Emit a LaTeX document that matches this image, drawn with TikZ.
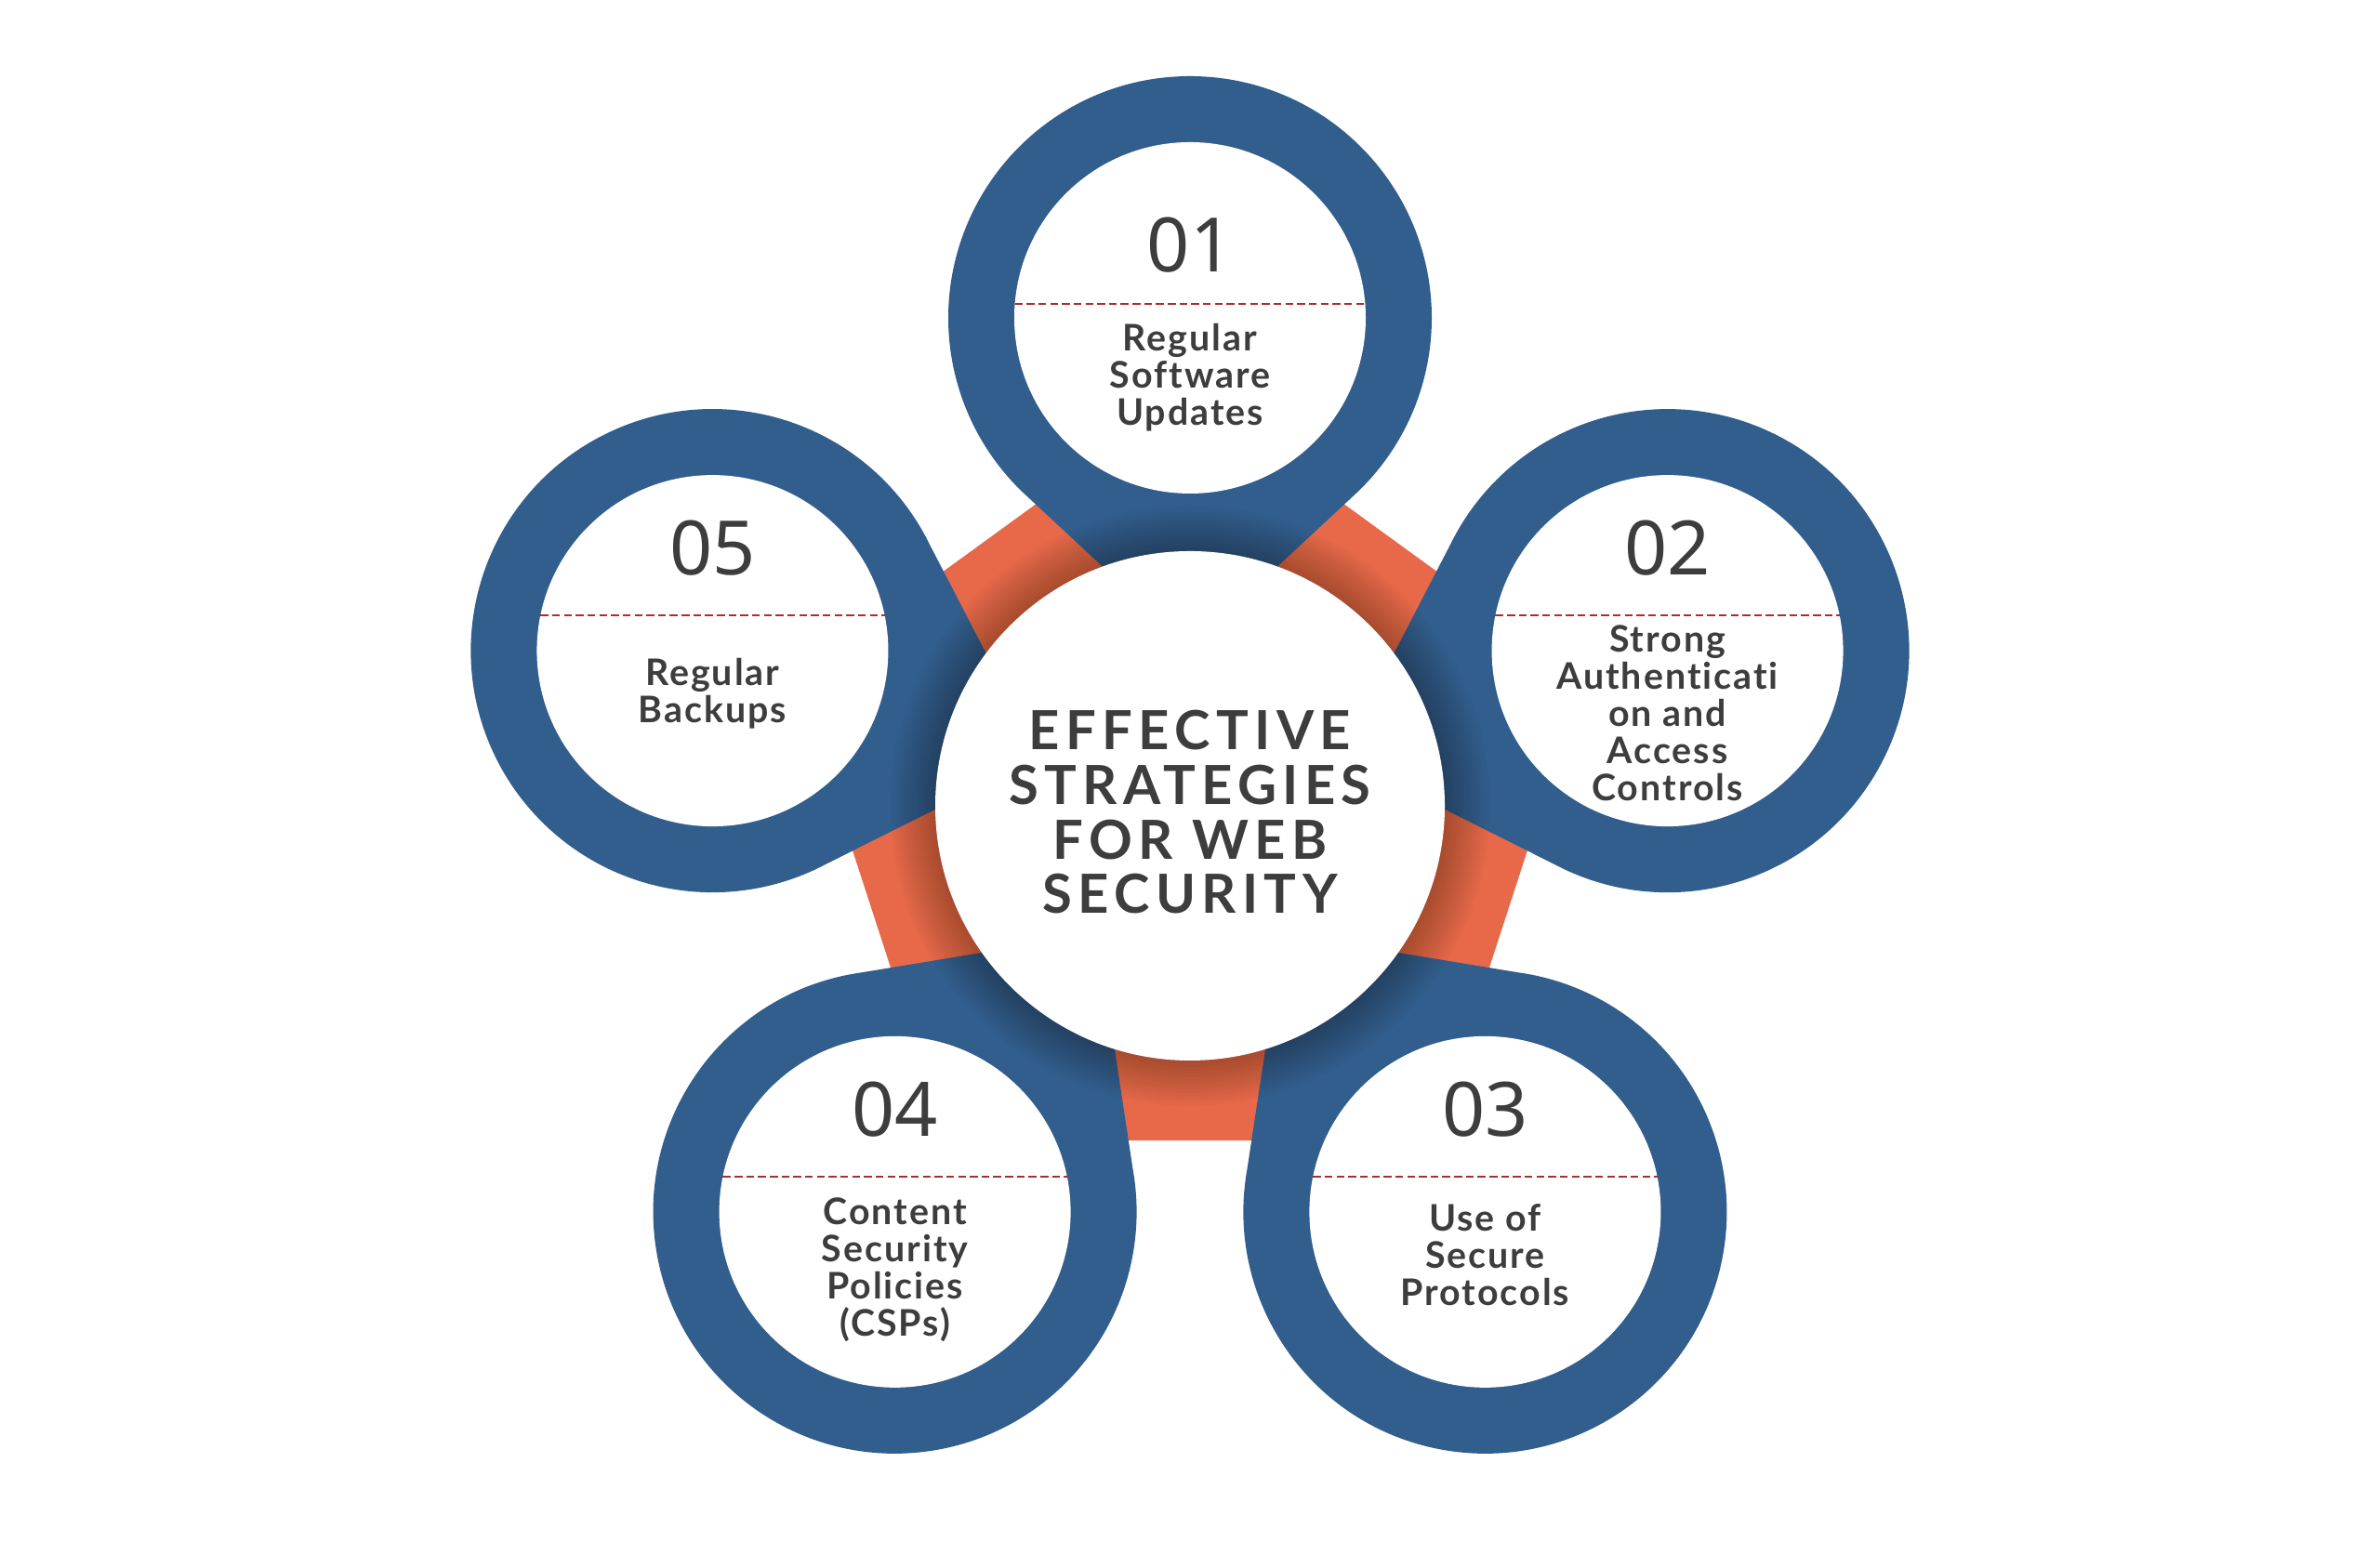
\documentclass[tikz,border=0pt]{standalone}
\usepackage{fontspec}
\setmainfont{Lato}
\newfontfamily\numfont{Noto Sans}
\newfontfamily\lblfont[LetterSpace=5,Ligatures=NoCommon]{Lato}
\newfontfamily\headfont[LetterSpace=11]{Lato}
\usepackage{tikz}
\usetikzlibrary{positioning,calc}
\definecolor{ringBlue}{HTML}{325E8D}
\definecolor{pentaOrange}{HTML}{E8694A}
\definecolor{inkGray}{HTML}{3D3D3D}
\definecolor{sepRed}{HTML}{A8302C}
% blue pin: #1 = direction from the hub, #2 = distance of the ring centre
\newcommand{\bluepin}[2]{%
  \begin{scope}[shift={(hub)},rotate=#1-90]
    \fill[ringBlue] (0,1.7) -- ({2.6*cos(-46)},{#2+2.6*sin(-46)})
      arc[start angle=-46,end angle=226,radius=2.6] -- cycle;
  \end{scope}}

\begin{document}
\begin{tikzpicture}[
  hole/.style={fill=white},
  numtxt/.style={font=\numfont\fontsize{23}{23}\selectfont,text=inkGray,inner sep=0pt},
  lbltxt/.style={font=\lblfont\bfseries\fontsize{11.2}{11.4}\selectfont,text=inkGray,align=center,inner sep=0pt},
  headtxt/.style={font=\headfont\bfseries\fontsize{16.5}{16.7}\selectfont,text=inkGray,align=center,inner sep=0pt},
  sepline/.style={draw=sepRed,line width=0.75pt,dash pattern=on 2.4pt off 1.2pt}
]
\fill[white] (0,0) rectangle (25.6,16.87);
\useasboundingbox (0,0) rectangle (25.6,16.87);
\coordinate (hub) at (12.8,8.2);

% orange pentagon behind the pins
\fill[pentaOrange] ($(hub)+(90:4.45)$) -- ($(hub)+(18:4.45)$) -- ($(hub)+(-54:4.45)$)
  -- ($(hub)+(-126:4.45)$) -- ($(hub)+(162:4.45)$) -- cycle;

\coordinate (s1) at ($(hub)+(90:5.25)$);
\coordinate (s2) at ($(hub)+(18:5.4)$);
\coordinate (s3) at ($(hub)+(-54:5.4)$);
\coordinate (s4) at ($(hub)+(-126:5.4)$);
\coordinate (s5) at ($(hub)+(162:5.4)$);

\bluepin{90}{5.25}
\bluepin{18}{5.4}
\bluepin{-54}{5.4}
\bluepin{-126}{5.4}
\bluepin{162}{5.4}

% soft shadow round the centre disc
\foreach \k in {1,...,14}
  \fill[black,opacity=0.018] (hub) circle[radius={2.74+0.035*\k}];

\fill[hole] (s1) circle[radius=1.89];
\fill[hole] (s2) circle[radius=1.89];
\fill[hole] (s3) circle[radius=1.89];
\fill[hole] (s4) circle[radius=1.89];
\fill[hole] (s5) circle[radius=1.89];

\node[circle,fill=white,minimum size=5.48cm,inner sep=0pt] (core) at (hub) {};
\node[headtxt] (title) at ($(hub)+(0,-0.07)$) {EFFECTIVE\\STRATEGIES\\FOR WEB\\SECURITY};

\node[numtxt] (n1) at ($(s1)+(0,0.78)$) {01};
\node[numtxt] (n2) at ($(s2)+(0,1.10)$) {02};
\node[numtxt] (n3) at ($(s3)+(0,1.10)$) {03};
\node[numtxt] (n4) at ($(s4)+(0,1.10)$) {04};
\node[numtxt] (n5) at ($(s5)+(0,1.10)$) {05};

\draw[sepline] ($(s1)+({-sqrt(1.89^2-0.15^2)},0.15)$) -- ($(s1)+({sqrt(1.89^2-0.15^2)},0.15)$);
\draw[sepline] ($(s2)+({-sqrt(1.89^2-0.38^2)},0.38)$) -- ($(s2)+({sqrt(1.89^2-0.38^2)},0.38)$);
\draw[sepline] ($(s3)+({-sqrt(1.89^2-0.38^2)},0.38)$) -- ($(s3)+({sqrt(1.89^2-0.38^2)},0.38)$);
\draw[sepline] ($(s4)+({-sqrt(1.89^2-0.38^2)},0.38)$) -- ($(s4)+({sqrt(1.89^2-0.38^2)},0.38)$);
\draw[sepline] ($(s5)+({-sqrt(1.89^2-0.38^2)},0.38)$) -- ($(s5)+({sqrt(1.89^2-0.38^2)},0.38)$);

\node[lbltxt] (t1) at ($(s1)+(0,-0.64)$) {Regular\\Software\\Updates};
\node[lbltxt] (t2) at ($(s2)+(0,-0.67)$) {Strong\\Authenticati\\on and\\Access\\Controls};
\node[lbltxt] (t3) at ($(s3)+(0,-0.46)$) {Use of\\Secure\\Protocols};
\node[lbltxt] (t4) at ($(s4)+(0,-0.62)$) {Content\\Security\\Policies\\(CSPs)};
\node[lbltxt] (t5) at ($(s5)+(0,-0.46)$) {Regular\\Backups};
\end{tikzpicture}
\end{document}
